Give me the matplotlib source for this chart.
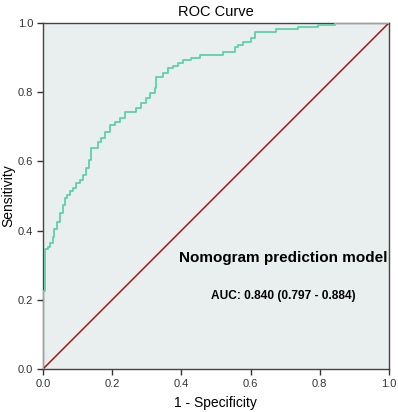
import matplotlib
matplotlib.use("Agg")
import matplotlib.pyplot as plt

plt.rcParams['font.family'] = ['Liberation Sans', 'DejaVu Sans']

fpr = [0.0, 0.0, 0.0058, 0.0136, 0.0214, 0.0280, 0.0329, 0.0405, 0.0491, 0.0569,
       0.0636, 0.0694, 0.0772, 0.0867, 0.0965, 0.1061, 0.1156, 0.1254, 0.1329,
       0.1399, 0.1590, 0.1688, 0.1783, 0.1928, 0.2072, 0.2217, 0.2361, 0.2699,
       0.2844, 0.2988, 0.3084, 0.3228, 0.3277, 0.3468, 0.3613, 0.3757, 0.3902,
       0.4046, 0.4289, 0.4529, 0.5202, 0.5540, 0.5627, 0.5780, 0.6023, 0.6118,
       0.6744, 0.7370, 0.7939, 0.8431, 1.0]
tpr = [0.0, 0.226, 0.346, 0.353, 0.364, 0.382, 0.405, 0.426, 0.450, 0.474,
       0.494, 0.503, 0.513, 0.523, 0.537, 0.546, 0.561, 0.580, 0.604,
       0.638, 0.657, 0.667, 0.686, 0.705, 0.715, 0.724, 0.744, 0.753,
       0.768, 0.782, 0.797, 0.811, 0.843, 0.855, 0.869, 0.877, 0.884,
       0.893, 0.898, 0.907, 0.915, 0.931, 0.936, 0.946, 0.956, 0.975,
       0.983, 0.988, 0.994, 1.0, 1.0]

ticks = [0.0, 0.2, 0.4, 0.6, 0.8, 1.0]
tick_labels = ['0.0', '0.2', '0.4', '0.6', '0.8', '1.0']

fig = plt.figure(figsize=(3.98, 4.12), dpi=100)
ax = fig.add_axes([0.108, 0.1044, 0.869, 0.8398])
ax.set_facecolor('#e9eeee')

ax.plot(fpr, tpr, drawstyle='steps-post', color='#5fd1a8', lw=1.3, zorder=3)
ax.plot([0, 1], [0, 1], color='#9b1c1c', lw=1.1, zorder=2)

ax.set_xlim(0, 1)
ax.set_ylim(0, 1)
ax.set_xticks(ticks)
ax.set_xticklabels(tick_labels)
ax.set_yticks(ticks)
ax.set_yticklabels(tick_labels)
ax.tick_params(direction='out', length=4, width=1, colors='#333333',
               labelsize=8, labelcolor='#333333', top=False, right=False, pad=3)
for s in ax.spines.values():
    s.set_color('#444444')
    s.set_linewidth(1.0)

ax.set_title('ROC Curve', fontsize=10.5, pad=5)
ax.set_xlabel('1 - Specificity', fontsize=10, labelpad=5)
ax.set_ylabel('Sensitivity', fontsize=10, labelpad=2)

ax.text(0.695, 0.322, 'Nomogram prediction model', fontsize=11, fontweight='bold',
        ha='center', va='center', transform=ax.transAxes)
ax.text(0.695, 0.211, 'AUC: 0.840 (0.797 - 0.884)', fontsize=8.6, fontweight='bold',
        ha='center', va='center', transform=ax.transAxes)

fig.savefig('out.png', dpi=100)
